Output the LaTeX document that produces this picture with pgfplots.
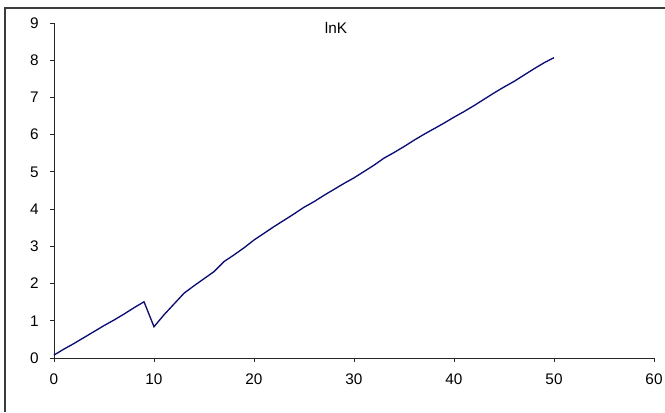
\documentclass[border=0pt]{standalone}
\usepackage{fontspec}
\setmainfont{Liberation Sans}
\usepackage{pgfplots}
\pgfplotsset{compat=1.18}
\definecolor{navyline}{RGB}{10,10,130}
\definecolor{framec}{RGB}{60,60,60}
\begin{document}
\begin{tikzpicture}[x=0.75pt,y=0.75pt]
\path[use as bounding box] (0,0) rectangle (665,412);
\draw[framec,line width=1.1pt] (5,0) -- (5,404) -- (665,404);
\begin{axis}[
  at={(54pt*0.75,54pt*0.75)}, anchor=south west,
  scale only axis, width=450pt, height=251.25pt,
  xmin=0, xmax=60, ymin=0, ymax=9,
  axis x line=bottom, axis y line=left,
  axis line style={-, line width=0.6pt, black!85},
  xtick={0,10,...,60}, ytick={0,1,...,9},
  tick align=outside, major tick length=3pt,
  tick style={line width=0.6pt, black!85},
  /pgf/number format/assume math mode=true,
  tick label style={font=\fontsize{11.5}{13}\selectfont},
  xticklabel style={yshift=-5pt},
  yticklabel style={xshift=-5pt},
  clip=false,
]
\addplot[navyline, line width=1pt, mark=none] coordinates {
(0,0.08) (1,0.24) (2,0.39) (3,0.55) (4,0.71) (5,0.87) (6,1.02) (7,1.18) (8,1.35) (9,1.51)
(10,0.84) (11,1.16) (12,1.45) (13,1.74) (14,1.94) (15,2.13) (16,2.32) (17,2.59) (18,2.77) (19,2.96)
(20,3.17) (21,3.35) (22,3.53) (23,3.70) (24,3.87) (25,4.05) (26,4.20) (27,4.37) (28,4.53) (29,4.69)
(30,4.84) (31,5.01) (32,5.18) (33,5.37) (34,5.52) (35,5.68) (36,5.85) (37,6.01) (38,6.16) (39,6.31)
(40,6.47) (41,6.62) (42,6.78) (43,6.95) (44,7.12) (45,7.28) (46,7.43) (47,7.60) (48,7.77) (49,7.93)
(50,8.07)
};
\node[font=\fontsize{11.5}{13}\selectfont] at (axis cs:28.2,8.88) {lnK};
\end{axis}
\end{tikzpicture}
\end{document}
